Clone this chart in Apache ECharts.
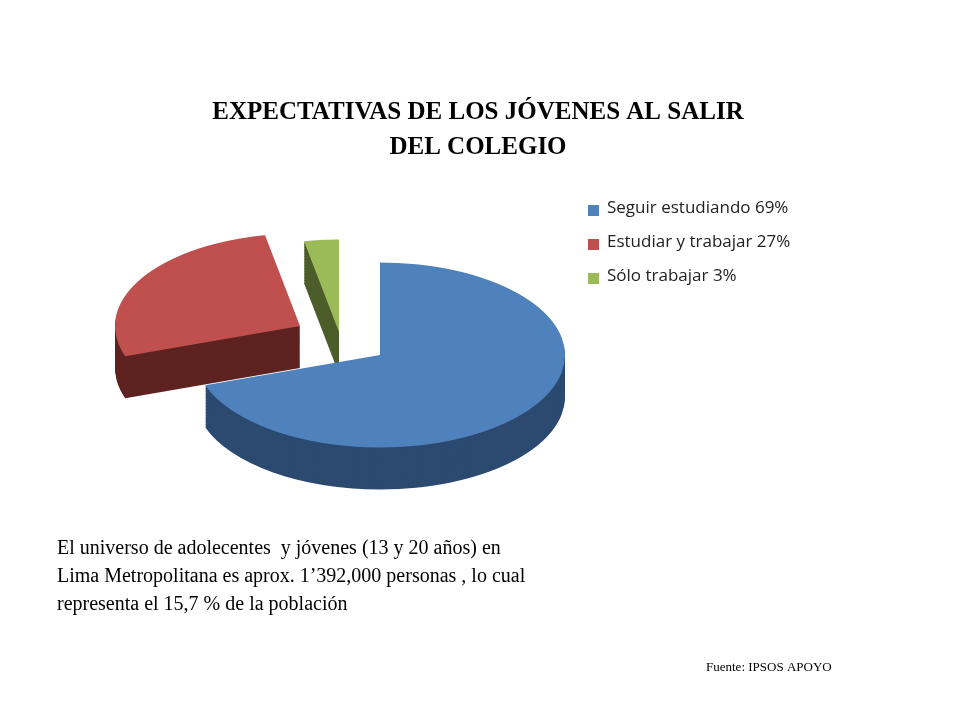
<!DOCTYPE html>
<html><head><meta charset="utf-8">
<script src="https://cdn.jsdelivr.net/npm/echarts@6/dist/echarts.min.js"></script>
<style>
body{margin:0;background:#fff;}
#wrap{position:relative;width:960px;height:720px;overflow:hidden;}
#pie{position:absolute;left:0;top:0;width:960px;height:1440px;transform:scaleY(0.5);transform-origin:0 0;}
#txt{position:absolute;left:0;top:0;width:960px;height:720px;}
</style></head>
<body><div id="wrap"><div id="pie"></div><div id="txt"></div></div>
<script>
var categories = ['Seguir estudiando 69%', 'Estudiar y trabajar 27%', 'Sólo trabajar 3%'];
var values = [69, 27, 3];
var topColors = ['#4f81bd', '#c0504d', '#9bbb59'];
var sideColors = ['#2c4a70', '#5e2321', '#4d5e2b'];
// how far each slice is pulled out of the pie (unscaled px)
var pullX = [0, -80, -41];
var pullY = [0, -58, -46];

var pieChart = echarts.init(document.getElementById('pie'));
var series = [];
function makeData(colors, only) {
    var data = [];
    for (var i = 0; i < values.length; i++) {
        data.push({ name: categories[i], value: values[i],
            itemStyle: { color: i === only ? colors[i] : 'rgba(0,0,0,0)' } });
    }
    return data;
}
function addLayer(colors, depth) {
    for (var k = 0; k < values.length; k++) {
        series.push({
            type: 'pie', silent: true, animation: false,
            center: [380 + pullX[k], 710 + pullY[k] + depth], radius: 185,
            startAngle: 90, clockwise: true,
            label: { show: false }, labelLine: { show: false },
            data: makeData(colors, k)
        });
    }
}
for (var d = 84; d > 0; d -= 3) addLayer(sideColors, d);
addLayer(topColors, 0);
pieChart.setOption({ series: series });

var txtChart = echarts.init(document.getElementById('txt'));
var graphics = [];
for (var i = 0; i < categories.length; i++) {
    graphics.push({ type: 'rect', shape: { x: 588, y: 205 + i * 34, width: 11, height: 11 }, style: { fill: topColors[i] } });
    graphics.push({ type: 'text', left: 607, top: 200 + i * 34, style: { text: categories[i], font: '17px "Open Sans"', fill: '#222' } });
}
graphics.push({ type: 'text', left: 57, top: 535, style: {
    text: 'El universo de adolecentes  y jóvenes (13 y 20 años) en\nLima Metropolitana es aprox. 1’392,000 personas , lo cual\nrepresenta el 15,7 % de la población',
    font: '20px "Liberation Serif"', fill: '#000', lineHeight: 28 } });
graphics.push({ type: 'text', left: 706, top: 661, style: { text: 'Fuente: IPSOS APOYO', font: '13px "Liberation Serif"', fill: '#000' } });
txtChart.setOption({
    title: {
        text: 'EXPECTATIVAS DE LOS JÓVENES AL SALIR\nDEL COLEGIO',
        left: 473, top: 90, textAlign: 'center',
        textStyle: { fontFamily: 'Liberation Serif', fontSize: 25, fontWeight: 'bold', color: '#000', lineHeight: 35 }
    },
    graphic: graphics
});
</script></body></html>
